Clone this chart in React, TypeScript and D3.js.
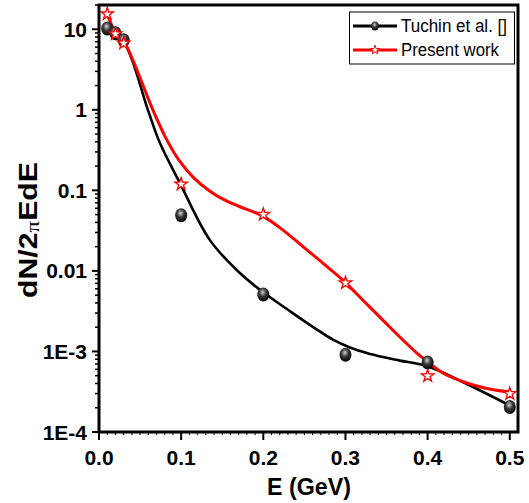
import React from 'react';
import * as d3 from 'd3';

const energies = [0.01, 0.02, 0.03, 0.1, 0.2, 0.3, 0.4, 0.5];
const tuchinValues = [10.2, 8.9, 7.3, 0.049, 0.0051, 0.00091, 0.00073, 0.000204];
const presentValues = [15.9, 9.0, 6.9, 0.123, 0.0516, 0.0073, 0.00051, 0.000307];

const tuchinFitE = [0.0097, 0.0304, 0.0596, 0.0742, 0.0985, 0.135, 0.1715, 0.1995, 0.2287, 0.2445, 0.2652, 0.2847, 0.3054, 0.326, 0.3455, 0.3662, 0.399, 0.4477, 0.5];
const tuchinFitV = [10.3, 6.9, 0.99, 0.386, 0.123, 0.0241, 0.0094, 0.00546, 0.00336, 0.00259, 0.00187, 0.0014, 0.00112, 0.000955, 0.000851, 0.000769, 0.000658, 0.000394, 0.000213];

const presentFitE = [0.0097, 0.0195, 0.0304, 0.0657, 0.0827, 0.0973, 0.1144, 0.135, 0.1557, 0.1776, 0.1995, 0.224, 0.2482, 0.2725, 0.2968, 0.321, 0.3455, 0.3662, 0.3869, 0.399, 0.4185, 0.4477, 0.472, 0.5];
const presentFitV = [15.6, 9.44, 7.1, 0.989, 0.42, 0.237, 0.146, 0.0977, 0.0734, 0.0593, 0.0479, 0.0321, 0.02, 0.0125, 0.00769, 0.00435, 0.00245, 0.00151, 0.000955, 0.00076, 0.00054, 0.000406, 0.000347, 0.000313];

const xTicks = [0, 0.1, 0.2, 0.3, 0.4, 0.5];
const xTickLabels = ['0.0', '0.1', '0.2', '0.3', '0.4', '0.5'];
const yTicks = [10, 1, 0.1, 0.01, 0.001, 0.0001];
const yTickLabels = ['10', '1', '0.1', '0.01', '1E-3', '1E-4'];
const seriesNames = ['Tuchin et al. []', 'Present work'];

const W = 529;
const H = 503;
const left = 99;
const right = 518;
const top = 5;
const bottom = 432;

export default function App() {
  const x = d3.scaleLinear().domain([0, 0.51]).range([left, right]);
  const y = d3.scaleLog().domain([1e-4, 20]).range([bottom, top]);

  const line = d3
    .line<[number, number]>()
    .x((d) => x(d[0]))
    .y((d) => y(d[1]))
    .curve(d3.curveCatmullRom.alpha(0.5));

  const tuchinFit = tuchinFitE.map((e, i) => [e, tuchinFitV[i]] as [number, number]);
  const presentFit = presentFitE.map((e, i) => [e, presentFitV[i]] as [number, number]);

  const starPath = d3.symbol().type(d3.symbolStar).size(49)() as string;
  const smallStar = d3.symbol().type(d3.symbolStar).size(26)() as string;

  const minorY: number[] = [];
  for (let k = -4; k <= 1; k++) {
    for (let m = 2; m <= 9; m++) {
      const v = m * Math.pow(10, k);
      if (v <= 20) minorY.push(v);
    }
  }
  const minorX: number[] = d3.range(0, 51).map((i) => i / 100).filter((v) => Math.round(v * 100) % 10 !== 0);

  const font = "'Liberation Sans', Arial, sans-serif";

  return (
    <svg width={W} height={H} style={{ position: 'absolute', left: 0, top: 0 }} fontFamily={font}>
      <defs>
        <radialGradient id="ball" cx="45%" cy="35%" r="65%">
          <stop offset="0%" stopColor="#d0d0d0" />
          <stop offset="45%" stopColor="#3a3a3a" />
          <stop offset="100%" stopColor="#000" />
        </radialGradient>
      </defs>
      <rect x={0} y={0} width={W} height={H} fill="#fff" />

      {/* curves */}
      <path d={line(tuchinFit) as string} fill="none" stroke="#000" strokeWidth={2.6} />
      <path d={line(presentFit) as string} fill="none" stroke="#ff0000" strokeWidth={3} />

      {/* markers */}
      {energies.map((e, i) => (
        <ellipse key={'b' + i} cx={x(e)} cy={y(tuchinValues[i])} rx={6} ry={7} fill="url(#ball)" />
      ))}
      {energies.map((e, i) => (
        <path
          key={'s' + i}
          d={starPath}
          transform={`translate(${x(e)},${y(presentValues[i]) + 1})`}
          fill="#fff"
          stroke="#ff0000"
          strokeWidth={1.3}
        />
      ))}

      {/* frame */}
      <rect x={left} y={top} width={right - left} height={bottom - top} fill="none" stroke="#000" strokeWidth={3} />

      {/* y ticks */}
      {yTicks.map((t, i) => (
        <g key={'yt' + i}>
          <line x1={left - 7} x2={left} y1={y(t)} y2={y(t)} stroke="#000" strokeWidth={2} />
          <text x={87} y={y(t)} dy="0.36em" textAnchor="end" fontSize={21} fontWeight="bold">
            {yTickLabels[i]}
          </text>
        </g>
      ))}
      {minorY.map((t, i) => (
        <line key={'ym' + i} x1={left - 4} x2={left} y1={y(t)} y2={y(t)} stroke="#000" strokeWidth={1.5} />
      ))}

      {/* x ticks */}
      {xTicks.map((t, i) => (
        <g key={'xt' + i}>
          <line x1={x(t)} x2={x(t)} y1={bottom} y2={bottom + 8} stroke="#000" strokeWidth={2} />
          <text x={x(t)} y={465} textAnchor="middle" fontSize={21} fontWeight="bold">
            {xTickLabels[i]}
          </text>
        </g>
      ))}
      {minorX.map((t, i) => (
        <line key={'xm' + i} x1={x(t)} x2={x(t)} y1={bottom} y2={bottom + 3} stroke="#000" strokeWidth={1} />
      ))}

      {/* axis titles */}
      <text x={309} y={495} textAnchor="middle" fontSize={24} fontWeight="bold" textLength={84} lengthAdjust="spacingAndGlyphs">
        E (GeV)
      </text>
      <text
        transform="translate(37,230) rotate(-90)"
        textAnchor="middle"
        fontSize={25}
        fontWeight="bold"
        textLength={136}
        lengthAdjust="spacingAndGlyphs"
      >
        dN/2<tspan fontFamily="'Liberation Serif', serif" fontWeight="normal" fontSize={19} dy={2}>π</tspan><tspan dy={-2}>EdE</tspan>
      </text>

      {/* legend */}
      <rect x={349.5} y={12} width={165} height={52} fill="#fff" stroke="#000" strokeWidth={1} />
      <line x1={353} x2={397} y1={26} y2={26} stroke="#000" strokeWidth={2.8} />
      <ellipse cx={375} cy={26} rx={4} ry={4.5} fill="url(#ball)" />
      <text x={401} y={32} fontSize={18} textLength={106} lengthAdjust="spacingAndGlyphs">
        {seriesNames[0]}
      </text>
      <line x1={353} x2={397} y1={50} y2={50} stroke="#ff0000" strokeWidth={2.8} />
      <path d={smallStar} transform="translate(375,50)" fill="#fff" stroke="#ff0000" strokeWidth={1} />
      <text x={401} y={56} fontSize={18} textLength={98} lengthAdjust="spacingAndGlyphs">
        {seriesNames[1]}
      </text>
    </svg>
  );
}
